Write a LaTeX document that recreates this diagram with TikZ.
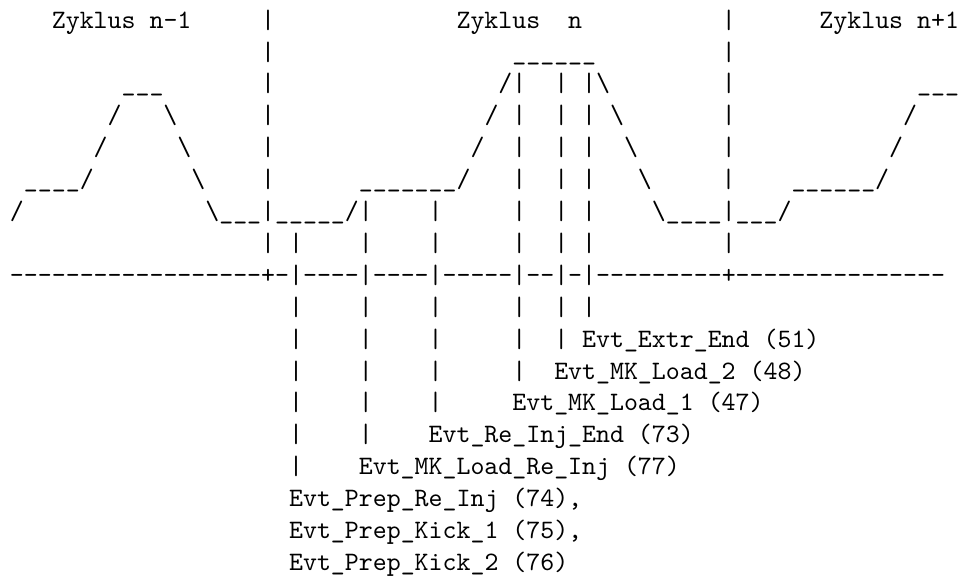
\documentclass[tikz,border=0pt]{standalone}
\newdimen\cw \cw=5.25pt
\newcommand{\Gp}[1]{\hbox to #1\cw{\hss}}
\newcommand{\Bs}{\textbackslash}
\newcommand{\Us}[1]{\foreach \i in {1,...,#1}{\textunderscore}}
\newcommand{\Ds}[1]{\foreach \i in {1,...,#1}{\mbox{-}}}
\tikzset{
  row/.style={anchor=base west, inner sep=0pt, outer sep=0pt, font=\ttfamily\normalsize, text=black}
}
\begin{document}
\begin{tikzpicture}[x=1pt,y=1pt]
\fill[white] (0,0) rectangle (360.76,-217.4);
\useasboundingbox (0,0) rectangle (360.76,-217.4);
\def\X{3.76}
\node[row] (r1)  at (\X,-10.6)  {\Gp{3}Zyklus\Gp{1}n-1\Gp{5}|\Gp{13}Zyklus\Gp{2}n\Gp{10}|\Gp{6}Zyklus\Gp{1}n+1};
\node[row] (r2)  at (\X,-22.6)  {\Gp{18}|\Gp{17}\Us{6}\Gp{9}|};
\node[row] (r3)  at (\X,-34.6)  {\Gp{8}\Us{3}\Gp{7}|\Gp{16}/|\Gp{2}|\Gp{1}|\Bs\Gp{8}|\Gp{13}\Us{3}};
\node[row] (r4)  at (\X,-46.6)  {\Gp{7}/\Gp{3}\Bs\Gp{6}|\Gp{15}/\Gp{1}|\Gp{2}|\Gp{1}|\Gp{1}\Bs\Gp{7}|\Gp{12}/};
\node[row] (r5)  at (\X,-58.6)  {\Gp{6}/\Gp{5}\Bs\Gp{5}|\Gp{14}/\Gp{2}|\Gp{2}|\Gp{1}|\Gp{2}\Bs\Gp{6}|\Gp{11}/};
\node[row] (r6)  at (\X,-70.6)  {\Gp{1}\Us{4}/\Gp{7}\Bs\Gp{4}|\Gp{6}\Us{7}/\Gp{3}|\Gp{2}|\Gp{1}|\Gp{3}\Bs\Gp{5}|\Gp{4}\Us{6}/};
\node[row] (r7)  at (\X,-82.6)  {/\Gp{13}\Bs\Us{3}|\Us{5}/|\Gp{4}|\Gp{5}|\Gp{2}|\Gp{1}|\Gp{4}\Bs\Us{4}|\Us{3}/};
\node[row] (r8)  at (\X,-94.6)  {\Gp{18}|\Gp{1}|\Gp{4}|\Gp{4}|\Gp{5}|\Gp{2}|\Gp{1}|\Gp{9}|};
\node[row] (r9)  at (\X,-106.6) {\Ds{18}+\Ds{1}|\Ds{4}|\Ds{4}|\Ds{5}|\Ds{2}|\Ds{1}|\Ds{9}+\Ds{15}};
\node[row] (r10) at (\X,-118.6) {\Gp{20}|\Gp{4}|\Gp{4}|\Gp{5}|\Gp{2}|\Gp{1}|};
\node[row] (r11) at (\X,-130.6) {\Gp{20}|\Gp{4}|\Gp{4}|\Gp{5}|\Gp{2}|\Gp{1}Evt\_Extr\_End\Gp{1}(51)};
\node[row] (r12) at (\X,-142.6) {\Gp{20}|\Gp{4}|\Gp{4}|\Gp{5}|\Gp{2}Evt\_MK\_Load\_2\Gp{1}(48)};
\node[row] (r13) at (\X,-154.6) {\Gp{20}|\Gp{4}|\Gp{4}|\Gp{5}Evt\_MK\_Load\_1\Gp{1}(47)};
\node[row] (r14) at (\X,-166.6) {\Gp{20}|\Gp{4}|\Gp{4}Evt\_Re\_Inj\_End\Gp{1}(73)};
\node[row] (r15) at (\X,-178.6) {\Gp{20}|\Gp{4}Evt\_MK\_Load\_Re\_Inj\Gp{1}(77)};
\node[row] (r16) at (\X,-190.6) {\Gp{20}Evt\_Prep\_Re\_Inj\Gp{1}(74),};
\node[row] (r17) at (\X,-202.6) {\Gp{20}Evt\_Prep\_Kick\_1\Gp{1}(75),};
\node[row] (r18) at (\X,-214.6) {\Gp{20}Evt\_Prep\_Kick\_2\Gp{1}(76)};
\end{tikzpicture}
\end{document}
